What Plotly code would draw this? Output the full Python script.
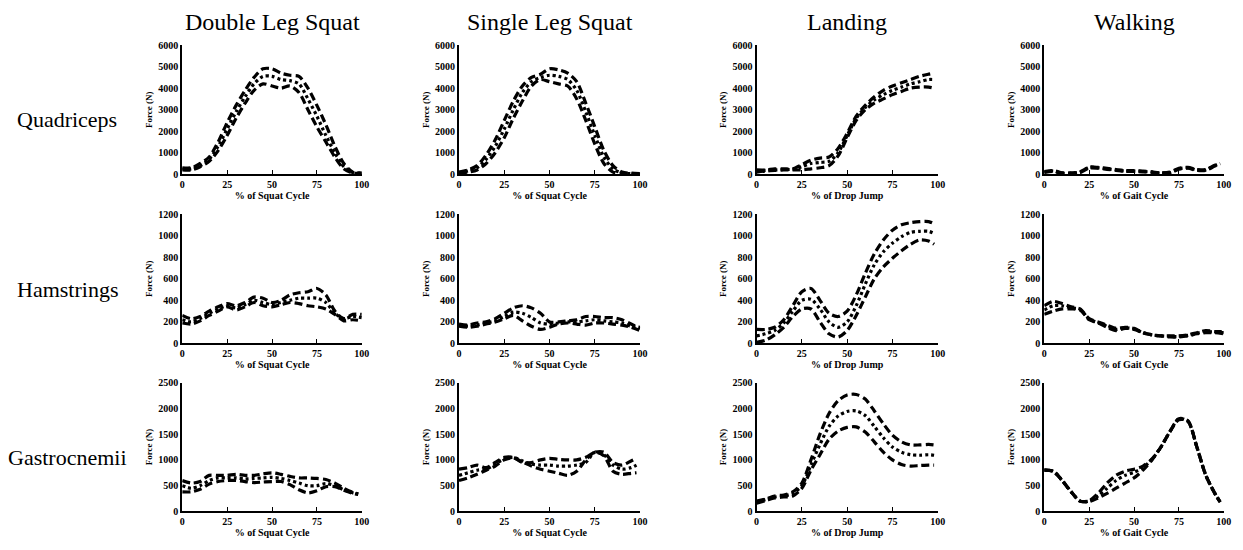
import plotly.graph_objects as go
from plotly.subplots import make_subplots

# ---------------- DATA ----------------
x_std = [0, 5, 10, 15, 20, 25, 30, 35, 40, 45, 50, 55, 60, 65, 70, 75, 80, 85, 90, 95, 100]
x_end = [0, 5, 10, 15, 20, 25, 30, 35, 40, 45, 50, 55, 60, 65, 70, 75, 80, 85, 90, 95, 98]

tasks = ["Double Leg Squat", "Single Leg Squat", "Landing", "Walking"]
muscles = ["Quadriceps", "Hamstrings", "Gastrocnemii"]
x_titles = ["% of Squat Cycle", "% of Squat Cycle", "% of Drop Jump", "% of Gait Cycle"]
y_max = [6000, 1200, 2500]
y_dtick = [1000, 200, 500]
x_ticks = [0, 25, 50, 75, 100]

# Quadriceps
dls_quad_up = [300, 300, 500, 800, 1500, 2400, 3200, 3900, 4500, 4900, 4900, 4700, 4600, 4550, 4000, 3200, 2300, 1300, 500, 100, 50]
dls_quad_mean = [250, 250, 400, 700, 1300, 2100, 2900, 3600, 4200, 4550, 4550, 4400, 4350, 4200, 3500, 2700, 1800, 1000, 350, 80, 50]
dls_quad_lo = [200, 200, 350, 600, 1100, 1800, 2600, 3300, 3900, 4200, 4100, 4000, 4100, 3800, 3000, 2200, 1500, 800, 250, 50, 50]

sls_quad_up = [100, 200, 400, 900, 1600, 2500, 3400, 4100, 4500, 4650, 4900, 4850, 4700, 4300, 3300, 2200, 1100, 400, 100, 50, 30]
sls_quad_mean = [80, 150, 300, 700, 1300, 2100, 3000, 3800, 4300, 4500, 4600, 4550, 4400, 3900, 2900, 1800, 800, 250, 60, 30, 20]
sls_quad_lo = [50, 100, 200, 500, 1000, 1700, 2600, 3400, 4100, 4400, 4300, 4200, 4100, 3500, 2500, 1400, 500, 100, 30, 20, 10]

land_quad_up = [200, 200, 250, 250, 250, 450, 650, 750, 800, 1200, 1900, 2700, 3200, 3600, 3900, 4100, 4250, 4400, 4550, 4650, 4700]
land_quad_mean = [150, 180, 200, 220, 230, 350, 500, 550, 600, 1000, 1800, 2600, 3100, 3450, 3700, 3900, 4050, 4200, 4300, 4400, 4400]
land_quad_lo = [100, 150, 180, 200, 200, 200, 250, 300, 400, 850, 1700, 2500, 3000, 3300, 3500, 3700, 3850, 4000, 4050, 4050, 4000]

walk_quad_up = [120, 170, 70, 60, 120, 330, 320, 270, 220, 170, 170, 150, 110, 60, 100, 280, 320, 220, 220, 420, 500]
walk_quad_mean = [100, 150, 50, 50, 100, 310, 300, 250, 200, 150, 150, 130, 100, 50, 80, 250, 300, 200, 200, 400, 480]
walk_quad_lo = [80, 130, 40, 40, 80, 290, 280, 230, 180, 130, 130, 110, 90, 40, 60, 230, 280, 180, 180, 380, 460]

# Hamstrings
dls_ham_up = [260, 230, 250, 300, 340, 370, 350, 380, 430, 420, 380, 400, 450, 470, 480, 510, 450, 300, 230, 270, 270]
dls_ham_mean = [220, 200, 230, 280, 320, 350, 330, 360, 400, 380, 360, 380, 400, 420, 420, 420, 380, 280, 230, 250, 240]
dls_ham_lo = [190, 180, 210, 260, 300, 340, 310, 340, 380, 350, 340, 360, 380, 370, 350, 340, 320, 270, 210, 220, 210]

sls_ham_up = [180, 170, 190, 200, 230, 280, 330, 350, 330, 280, 200, 200, 210, 220, 250, 250, 240, 240, 220, 180, 140]
sls_ham_mean = [170, 160, 170, 190, 210, 250, 290, 280, 240, 190, 180, 190, 200, 200, 210, 220, 210, 200, 190, 160, 150]
sls_ham_lo = [160, 150, 160, 180, 200, 230, 260, 210, 160, 130, 150, 180, 190, 180, 170, 190, 190, 180, 170, 150, 120]

land_ham_up = [130, 130, 150, 220, 350, 480, 510, 400, 280, 250, 300, 450, 650, 830, 960, 1050, 1100, 1120, 1130, 1130, 1110]
land_ham_mean = [70, 90, 120, 190, 300, 400, 410, 320, 200, 150, 200, 350, 550, 730, 850, 930, 990, 1030, 1040, 1040, 1020]
land_ham_lo = [10, 30, 80, 150, 250, 320, 320, 200, 90, 60, 120, 260, 430, 600, 710, 790, 860, 920, 960, 950, 920]

walk_ham_up = [350, 390, 370, 340, 320, 230, 200, 170, 140, 150, 140, 100, 80, 70, 70, 70, 80, 100, 120, 110, 110]
walk_ham_mean = [310, 350, 350, 330, 315, 225, 195, 160, 130, 145, 135, 100, 80, 70, 65, 65, 75, 95, 110, 105, 100]
walk_ham_lo = [270, 300, 320, 320, 310, 220, 190, 150, 120, 140, 130, 100, 80, 70, 60, 60, 70, 90, 100, 100, 90]

# Gastrocnemii
dls_gas_up = [600, 550, 580, 700, 700, 700, 720, 700, 700, 730, 750, 720, 680, 650, 650, 640, 620, 550, 450, 370, 340]
dls_gas_mean = [500, 450, 500, 600, 650, 650, 650, 630, 640, 650, 660, 640, 600, 550, 500, 500, 540, 500, 420, 360, 340]
dls_gas_lo = [380, 380, 430, 530, 580, 600, 600, 580, 560, 570, 580, 580, 520, 420, 360, 400, 480, 480, 410, 350, 330]

sls_gas_up = [820, 850, 900, 850, 950, 1050, 1050, 950, 950, 1000, 1030, 1010, 1000, 1000, 1050, 1150, 1150, 950, 900, 980, 1030]
sls_gas_mean = [700, 750, 800, 820, 920, 1020, 1050, 980, 920, 900, 900, 880, 880, 900, 950, 1150, 1100, 900, 820, 850, 900]
sls_gas_lo = [600, 650, 720, 800, 880, 1000, 1040, 960, 880, 820, 780, 740, 700, 780, 1000, 1150, 1080, 780, 720, 740, 750]

land_gas_up = [200, 240, 300, 320, 380, 550, 1000, 1500, 1900, 2150, 2260, 2270, 2180, 1950, 1700, 1480, 1350, 1290, 1290, 1300, 1290]
land_gas_mean = [180, 230, 280, 300, 350, 500, 900, 1300, 1650, 1850, 1940, 1950, 1860, 1650, 1430, 1250, 1150, 1100, 1090, 1100, 1090]
land_gas_lo = [160, 210, 260, 280, 300, 450, 800, 1100, 1400, 1560, 1630, 1640, 1540, 1350, 1150, 1000, 910, 880, 890, 900, 900]

walk_gas_up = [800, 780, 600, 380, 200, 210, 350, 550, 700, 780, 820, 880, 1020, 1250, 1550, 1780, 1750, 1250, 700, 350, 180]
walk_gas_mean = [800, 780, 600, 380, 200, 200, 300, 450, 600, 700, 760, 850, 1010, 1250, 1550, 1800, 1750, 1250, 700, 350, 180]
walk_gas_lo = [800, 780, 600, 380, 200, 190, 260, 350, 450, 550, 650, 800, 1000, 1250, 1550, 1800, 1760, 1250, 700, 350, 180]

panels = [
    [(x_std, dls_quad_up, dls_quad_mean, dls_quad_lo), (x_std, sls_quad_up, sls_quad_mean, sls_quad_lo),
     (x_end, land_quad_up, land_quad_mean, land_quad_lo), (x_end, walk_quad_up, walk_quad_mean, walk_quad_lo)],
    [(x_std, dls_ham_up, dls_ham_mean, dls_ham_lo), (x_std, sls_ham_up, sls_ham_mean, sls_ham_lo),
     (x_end, land_ham_up, land_ham_mean, land_ham_lo), (x_std, walk_ham_up, walk_ham_mean, walk_ham_lo)],
    [(x_end, dls_gas_up, dls_gas_mean, dls_gas_lo), (x_end, sls_gas_up, sls_gas_mean, sls_gas_lo),
     (x_end, land_gas_up, land_gas_mean, land_gas_lo), (x_end, walk_gas_up, walk_gas_mean, walk_gas_lo)],
]

# ---------------- LAYOUT ----------------
W, H = 1243, 550
col_px = [(181.7, 362.7), (460.7, 643.3), (760.7, 943.3), (1050.7, 1231.7)]
row_px = [(40, 172), (212.7, 345), (385, 516.7)]

SERIF = "Liberation Serif"
fig = make_subplots(rows=3, cols=4)

dash_style = "8px,4px"
dot_style = "3px,3px"

for r in range(3):
    for c in range(4):
        xs, up, mean, lo = panels[r][c]
        for ys, dsh in ((up, dash_style), (mean, dot_style), (lo, dash_style)):
            fig.add_trace(go.Scatter(x=xs, y=ys, mode="lines",
                                     line=dict(color="black", width=3.2, dash=dsh, shape="spline", smoothing=0.8),
                                     showlegend=False, hoverinfo="skip"),
                          row=r + 1, col=c + 1)
        idx = r * 4 + c + 1
        xa = "xaxis" if idx == 1 else f"xaxis{idx}"
        ya = "yaxis" if idx == 1 else f"yaxis{idx}"
        x0, x1 = col_px[c]
        y0, y1 = row_px[r]
        fig.layout[xa].update(
            domain=[x0 / W, x1 / W], range=[0, 100], tickvals=x_ticks,
            showline=True, linecolor="black", linewidth=2, showgrid=False, zeroline=False,
            ticks="inside", ticklen=4, tickcolor="black", tickwidth=1,
            tickfont=dict(family=SERIF, size=10, color="black", weight="bold"),
            title=dict(text=x_titles[c], font=dict(family=SERIF, size=10, color="black", weight="bold"), standoff=2),
        )
        fig.layout[ya].update(
            domain=[1 - y1 / H, 1 - y0 / H], range=[0, y_max[r]], dtick=y_dtick[r],
            showline=True, linecolor="black", linewidth=2, showgrid=False, zeroline=False,
            ticks="", tickfont=dict(family=SERIF, size=10, color="black", weight="bold"),
            title=dict(text="Force (N)", font=dict(family=SERIF, size=9, color="black", weight="bold"), standoff=4),
        )

annotations = []
for c, t in enumerate(tasks):
    cx = (col_px[c][0] + col_px[c][1]) / 2 / W
    annotations.append(dict(text=t, x=cx, y=1 - 16 / H, xref="paper", yref="paper",
                            showarrow=False, xanchor="center", yanchor="middle",
                            font=dict(family=SERIF, size=24, color="black")))
row_label_y = [116, 290, 462]
for r, m in enumerate(muscles):
    annotations.append(dict(text=m, x=66 / W, y=1 - row_label_y[r] / H, xref="paper", yref="paper",
                            showarrow=False, xanchor="center", yanchor="middle",
                            font=dict(family=SERIF, size=22, color="black")))

fig.update_layout(width=W, height=H, margin=dict(l=0, r=0, t=0, b=0),
                  paper_bgcolor="white", plot_bgcolor="white", annotations=annotations)

fig.write_html("out.html")
